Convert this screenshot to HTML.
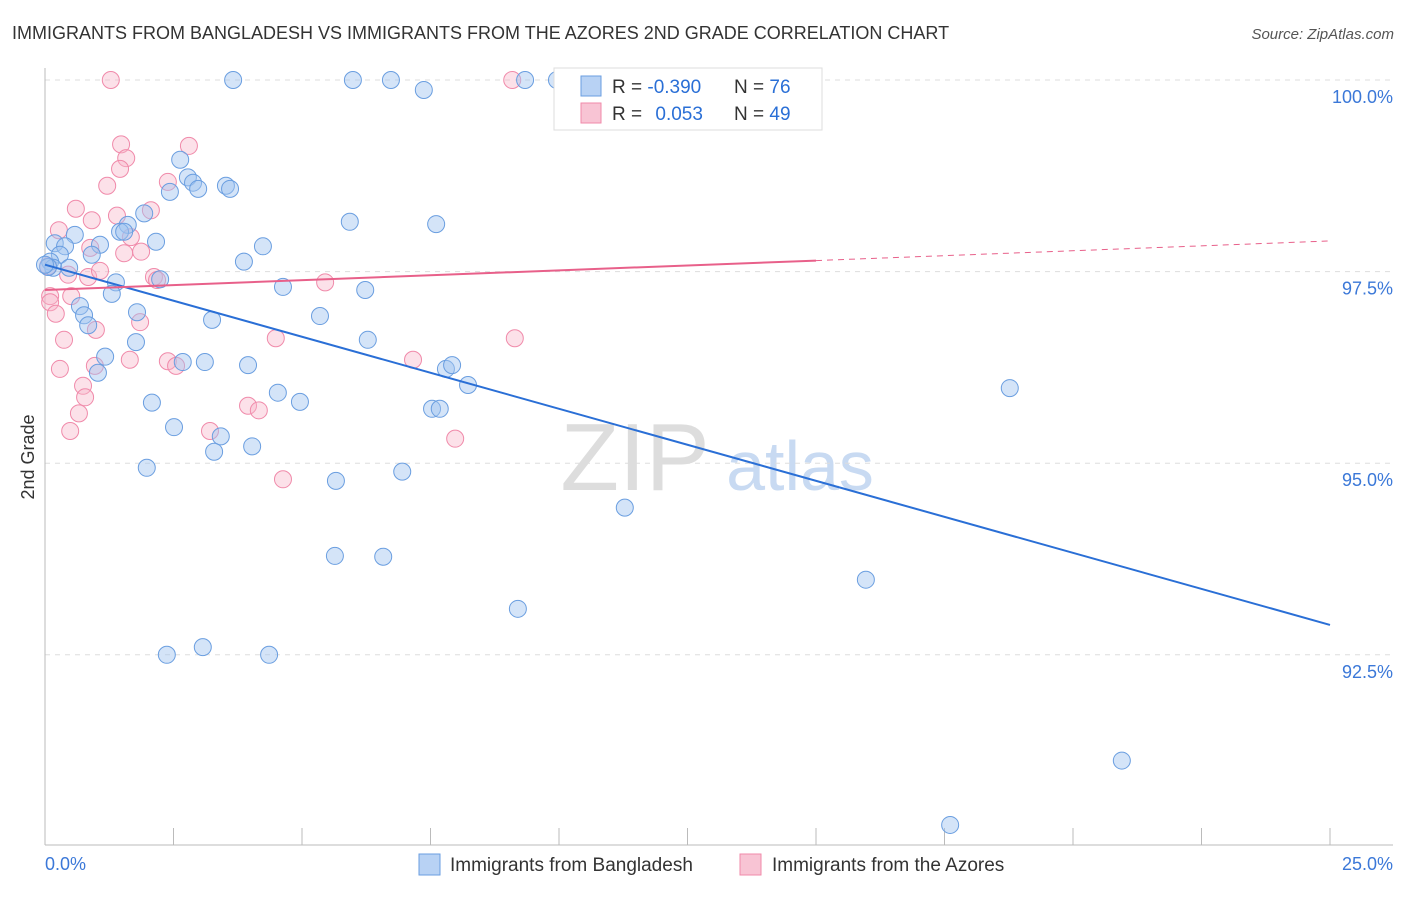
<!DOCTYPE html>
<html><head><meta charset="utf-8"><style>
body{margin:0;background:#fff;font-family:"Liberation Sans",sans-serif;}
svg text{font-family:"Liberation Sans",sans-serif;}
</style></head><body>
<svg id="chart" width="1406" height="892" xmlns="http://www.w3.org/2000/svg">
<text x="12" y="39" font-size="18" fill="#333">IMMIGRANTS FROM BANGLADESH VS IMMIGRANTS FROM THE AZORES 2ND GRADE CORRELATION CHART</text>
<text x="1394" y="39" font-size="15" fill="#555" font-style="italic" text-anchor="end">Source: ZipAtlas.com</text>
<text x="34" y="457" font-size="18" fill="#333" text-anchor="middle" transform="rotate(-90 34 457)">2nd Grade</text>
<g><text x="635" y="490" font-size="96" fill="#ddd" font-family="Liberation Serif" text-anchor="middle">ZIP</text><text x="800" y="490" font-size="70" fill="#c8daf2" text-anchor="middle">atlas</text></g>
<g id="grid"></g><g id="pts"></g><g id="trend"></g>
<g>
<rect x="554" y="68" width="268" height="62" fill="#fff" stroke="#ddd"/>
<rect x="581" y="76" width="20" height="20" fill="#b8d2f4" stroke="#6a9ee0"/>
<rect x="581" y="103" width="20" height="20" fill="#f8c4d4" stroke="#f08aaa"/>
<text x="612" y="93" font-size="19" fill="#333">R = <tspan fill="#2a6fd6">-0.390</tspan></text>
<text x="734" y="93" font-size="19" fill="#333">N = <tspan fill="#2a6fd6">76</tspan></text>
<text x="612" y="120" font-size="19" fill="#333">R = <tspan fill="#2a6fd6" dx="8">0.053</tspan></text>
<text x="734" y="120" font-size="19" fill="#333">N = <tspan fill="#2a6fd6">49</tspan></text>
</g>
<g>
<rect x="419" y="854" width="21" height="21" fill="#b8d2f4" stroke="#6a9ee0"/>
<text x="450" y="871" font-size="19" fill="#333">Immigrants from Bangladesh</text>
<rect x="740" y="854" width="21" height="21" fill="#f8c4d4" stroke="#f08aaa"/>
<text x="772" y="871" font-size="19" fill="#333">Immigrants from the Azores</text>
</g>
</svg>
<script>
const blueX=[3.66,5.99,6.73,7.37,9.34,9.96,2.63,2.78,2.88,2.98,2.43,3.52,3.60,1.93,5.93,7.61,1.61,1.46,1.54,0.58,2.16,4.24,0.19,0.39,1.07,0.91,0.29,0.10,0.16,0.47,3.87,1.38,2.24,4.63,6.23,1.30,0.68,1.79,0.76,3.25,5.35,0.84,1.77,6.28,1.17,2.68,3.11,3.95,1.03,7.80,7.92,8.23,4.53,4.96,2.08,18.77,7.53,7.68,2.51,3.42,3.29,4.03,1.98,6.95,5.66,11.28,5.64,6.58,15.97,9.20,2.37,3.07,4.36,20.95,17.61,0.06,0.0];
const blueY=[100,100,100,99.87,100,100,98.96,98.73,98.66,98.58,98.54,98.62,98.58,98.26,98.15,98.12,98.11,98.02,98.02,97.98,97.89,97.83,97.87,97.83,97.85,97.72,97.72,97.63,97.55,97.55,97.63,97.36,97.40,97.30,97.26,97.21,97.05,96.97,96.93,96.87,96.92,96.80,96.58,96.61,96.39,96.32,96.32,96.28,96.18,96.23,96.28,96.02,95.92,95.80,95.79,95.98,95.71,95.71,95.47,95.35,95.15,95.22,94.94,94.89,94.77,94.42,93.79,93.78,93.48,93.10,92.50,92.60,92.50,91.12,90.28,97.56,97.59];
const pinkX=[1.28,9.09,1.48,2.80,1.58,1.46,1.21,2.39,0.60,2.06,1.40,0.91,0.27,1.67,0.88,1.54,1.87,0.45,0.84,2.12,1.07,5.45,0.10,0.51,0.10,0.21,1.85,0.99,0.37,4.49,9.14,0.29,0.97,1.65,2.39,2.55,7.16,0.74,0.78,0.66,3.95,4.16,0.49,3.21,7.98,4.63,0.06,2.18];
const pinkY=[100,100,99.16,99.14,98.98,98.84,98.62,98.67,98.32,98.30,98.23,98.17,98.04,97.95,97.81,97.74,97.76,97.46,97.43,97.43,97.51,97.36,97.18,97.18,97.10,96.95,96.84,96.74,96.61,96.63,96.63,96.23,96.27,96.35,96.33,96.27,96.35,96.01,95.86,95.65,95.75,95.69,95.42,95.42,95.32,94.79,97.57,97.39];
const blueTrendY=[97.59,92.89];
const pinkTrendY=[97.26,97.90];
const pinkSolidEnd=15;
const yTicks=[100,97.5,95,92.5];
const yTickLabels=["100.0%","97.5%","95.0%","92.5%"];
const xTicks=[0,2.5,5,7.5,10,12.5,15,17.5,20,22.5,25];
const xTickLabels=["0.0%","25.0%"];
const NS="http://www.w3.org/2000/svg";
const X0=45,X1=1330,Y0=80,PXPER=76.64;
function sx(v){return X0+(v/25)*(X1-X0);}
function sy(v){return Y0+(100-v)*PXPER;}
function mk(tag,attrs,parent){const e=document.createElementNS(NS,tag);for(const k in attrs)e.setAttribute(k,attrs[k]);parent.appendChild(e);return e;}
const grid=document.getElementById('grid');
yTicks.forEach((t,i)=>{
 const l=mk('line',{x1:X0,x2:1393,y1:sy(t),y2:sy(t),stroke:'#ddd','stroke-dasharray':'5,5'},grid);
 
 
 const tx=mk('text',{x:1393,y:sy(t)+23,'font-size':18,fill:'#3b78d8','text-anchor':'end'},grid);
 tx.textContent=yTickLabels[i];
 
 
});
const ax=mk('line',{x1:X0,x2:X0,y1:68,y2:845,stroke:'#bbb'},grid);


const bx=mk('line',{x1:X0,x2:1393,y1:845,y2:845,stroke:'#bbb'},grid);


xTicks.forEach(t=>{
 const l=mk('line',{x1:sx(t),x2:sx(t),y1:828,y2:845,stroke:'#bbb'},grid);
 
 
});
[[0,'start',45],[25,'end',1393]].forEach((d,i)=>{
 const tx=mk('text',{x:d[2],y:870,'font-size':18,fill:'#3b78d8','text-anchor':d[1]},grid);
 tx.textContent=xTickLabels[i];
 
 
});
const pts=document.getElementById('pts');
pinkX.forEach((x,i)=>{
 const c=mk('circle',{cx:sx(x),cy:sy(pinkY[i]),r:8.5,fill:'rgba(248,180,200,0.4)',stroke:'#f08aaa','stroke-width':1},pts);
 
 
});
blueX.forEach((x,i)=>{
 const c=mk('circle',{cx:sx(x),cy:sy(blueY[i]),r:8.5,fill:'rgba(160,196,240,0.45)',stroke:'#6a9ee0','stroke-width':1},pts);
 
 
});
const tr=document.getElementById('trend');
const bl=mk('line',{x1:sx(0),y1:sy(blueTrendY[0]),x2:sx(25),y2:sy(blueTrendY[1]),stroke:'#2a6fd6','stroke-width':2},tr);


const pm=pinkTrendY[0]+(pinkTrendY[1]-pinkTrendY[0])*pinkSolidEnd/25;
const ps=mk('line',{x1:sx(0),y1:sy(pinkTrendY[0]),x2:sx(pinkSolidEnd),y2:sy(pm),stroke:'#e8608a','stroke-width':2},tr);


const pd=mk('line',{x1:sx(pinkSolidEnd),y1:sy(pm),x2:sx(25),y2:sy(pinkTrendY[1]),stroke:'#e8608a','stroke-width':1,'stroke-dasharray':'6,5'},tr);


</script>
</body></html>
